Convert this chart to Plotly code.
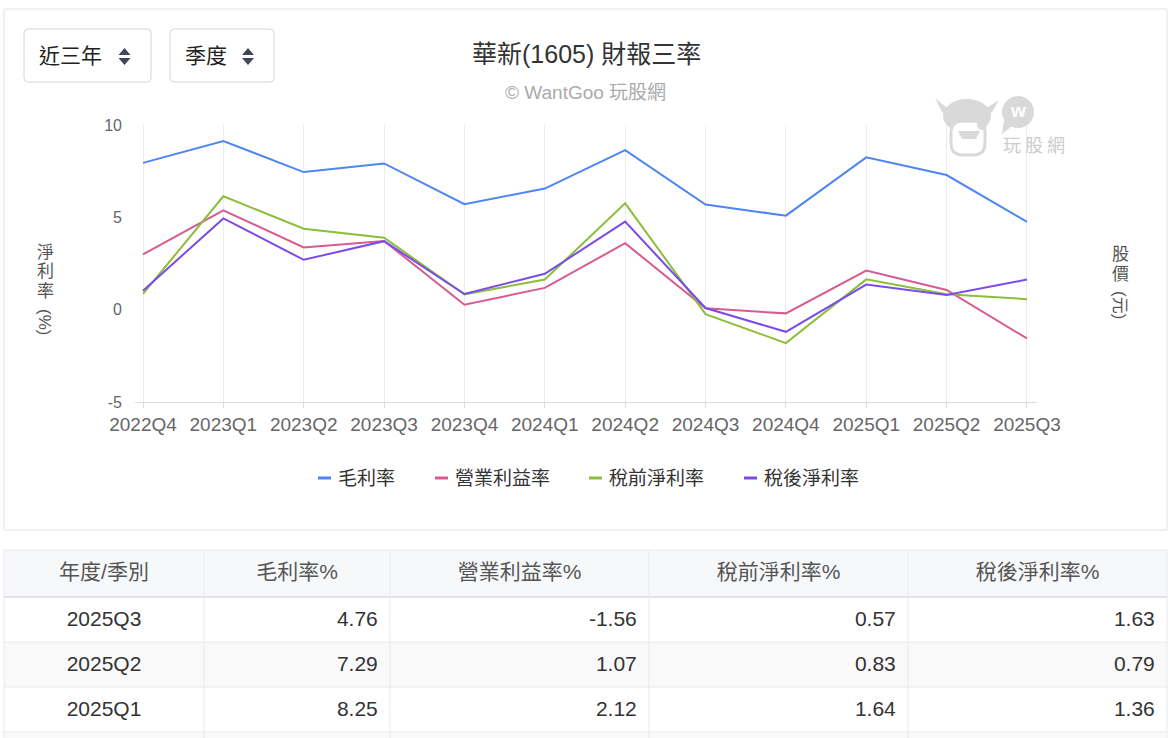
import plotly.graph_objects as go

# ---------------- data ----------------
quarters = ["2022Q4", "2023Q1", "2023Q2", "2023Q3", "2023Q4", "2024Q1",
            "2024Q2", "2024Q3", "2024Q4", "2025Q1", "2025Q2", "2025Q3"]
gross_margin = [7.95, 9.13, 7.45, 7.92, 5.71, 6.56, 8.64, 5.69, 5.09, 8.25, 7.29, 4.76]
operating_margin = [3.00, 5.38, 3.37, 3.72, 0.27, 1.18, 3.60, 0.07, -0.20, 2.12, 1.07, -1.56]
pretax_margin = [0.85, 6.14, 4.38, 3.90, 0.83, 1.63, 5.76, -0.24, -1.81, 1.64, 0.83, 0.57]
aftertax_margin = [1.03, 4.94, 2.70, 3.71, 0.85, 1.94, 4.77, 0.09, -1.20, 1.36, 0.79, 1.63]

series_names = ["毛利率", "營業利益率", "稅前淨利率", "稅後淨利率"]
series_colors = ["#4E86F1", "#D85A92", "#8BBE3B", "#7A4BEB"]
series_values = [gross_margin, operating_margin, pretax_margin, aftertax_margin]

y_ticks = [-5, 0, 5, 10]
y_tick_text = ["-5", "0", "5", "10"]
title_text = "華新(1605) 財報三率"
subtitle_text = "© WantGoo 玩股網"
period_options = ["近三年", "季度"]
table_header = ["年度/季別", "毛利率%", "營業利益率%", "稅前淨利率%", "稅後淨利率%"]
table_rows_shown = 3

# ---------------- layout helpers ----------------
W, H = 1172, 738
FONT = "Liberation Sans, Noto Sans CJK TC, Noto Sans, sans-serif"


def px(x):
    return x / W


def py(y):
    return 1 - y / H


def rrect(x0, y0, x1, y1, r):
    X = lambda v: px(v)
    Y = lambda v: py(v)
    return (f"M{X(x0 + r)},{Y(y0)} L{X(x1 - r)},{Y(y0)} Q{X(x1)},{Y(y0)} {X(x1)},{Y(y0 + r)} "
            f"L{X(x1)},{Y(y1 - r)} Q{X(x1)},{Y(y1)} {X(x1 - r)},{Y(y1)} "
            f"L{X(x0 + r)},{Y(y1)} Q{X(x0)},{Y(y1)} {X(x0)},{Y(y1 - r)} "
            f"L{X(x0)},{Y(y0 + r)} Q{X(x0)},{Y(y0)} {X(x0 + r)},{Y(y0)} Z")


def poly(points):
    return "M" + " L".join(f"{px(a)},{py(b)}" for a, b in points) + " Z"


def hline(x0, x1, y, color, layer="above"):
    return dict(type="line", xref="paper", yref="paper", x0=px(x0), x1=px(x1),
                y0=py(y), y1=py(y), line=dict(color=color, width=1), layer=layer)


def vline(x, y0, y1, color, layer="above"):
    return dict(type="line", xref="paper", yref="paper", x0=px(x), x1=px(x),
                y0=py(y0), y1=py(y1), line=dict(color=color, width=1), layer=layer)


def box(x0, x1, y0, y1, fill):
    return dict(type="rect", xref="paper", yref="paper", x0=px(x0), x1=px(x1),
                y0=py(y1), y1=py(y0), fillcolor=fill, line=dict(width=0), layer="below")


PLOT_L, PLOT_R, PLOT_T, PLOT_B = 135, 1037, 125, 402
STEP = 80.36
FIRST = 143

fig = go.Figure()

for name, color, vals in zip(series_names, series_colors, series_values):
    fig.add_trace(go.Scatter(x=quarters, y=vals, mode="lines", name=name,
                             line=dict(color=color, width=2), showlegend=False,
                             hoverinfo="x+y+name"))

# ---------------- table (latest first) ----------------
TAB_L, TAB_R, TAB_T = 4, 1167, 550
HEAD_H, ROW_H = 47, 45
col_w = [200, 186, 259, 259, 259]
TEXT_SHIFT = 5
TAB_FONT = 21

rows = list(range(len(quarters)))[::-1][:table_rows_shown]
cell_cols = [[quarters[i] for i in rows]]
for vals in series_values:
    cell_cols.append([f"{vals[i]:.2f}\u2009" for i in rows])

fig.add_trace(go.Table(
    domain=dict(x=[px(TAB_L), px(TAB_R)], y=[0, py(TAB_T + TEXT_SHIFT)]),
    columnwidth=col_w,
    header=dict(values=table_header, height=HEAD_H, align="center",
                fill=dict(color="rgba(0,0,0,0)"), line=dict(color="rgba(0,0,0,0)", width=0),
                font=dict(family=FONT, size=TAB_FONT, color="#555555")),
    cells=dict(values=cell_cols, height=ROW_H,
               align=["center", "right", "right", "right", "right"],
               fill=dict(color="rgba(0,0,0,0)"), line=dict(color="rgba(0,0,0,0)", width=0),
               font=dict(family=FONT, size=TAB_FONT, color="#333333")),
))

shapes = []
annotations = []

# table grid/background
shapes.append(box(TAB_L, TAB_R, TAB_T, TAB_T + HEAD_H, "#f7f8fa"))
row_edges = [TAB_T + HEAD_H + k * ROW_H for k in range(5)]
for k in range(4):
    if k % 2 == 1:
        shapes.append(box(TAB_L, TAB_R, row_edges[k], min(row_edges[k + 1], H + 2), "#f9f9fa"))
shapes.append(hline(TAB_L, TAB_R, TAB_T, "#e8e9ec"))
shapes.append(hline(TAB_L, TAB_R, TAB_T + HEAD_H, "#c9ccd1"))
for e in row_edges[1:4]:
    shapes.append(hline(TAB_L, TAB_R, e, "#e8e9ec"))
xs = [TAB_L]
for w in col_w:
    xs.append(xs[-1] + w)
for xv in xs:
    shapes.append(vline(xv, TAB_T, H + 2, "#e8e9ec"))

# card border
shapes.append(dict(type="rect", xref="paper", yref="paper", x0=px(4), x1=px(1167),
                   y0=py(530), y1=py(9), line=dict(color="#e2e3e6", width=1),
                   fillcolor="rgba(0,0,0,0)", layer="below"))

# dropdown boxes
boxes = [(24, 151, 37, 124.5), (170, 274, 183, 248)]
for (bx0, bx1, tx, ax), label in zip(boxes, period_options):
    shapes.append(dict(type="path", xref="paper", yref="paper",
                       path=rrect(bx0, 29, bx1, 82, 4), line=dict(color="#d3d6db", width=1),
                       fillcolor="white"))
    annotations.append(dict(x=px(tx), y=py(56), xref="paper", yref="paper", text=label,
                            showarrow=False, xanchor="left", yanchor="middle",
                            font=dict(family=FONT, size=21, color="#222222")))
    shapes.append(dict(type="path", xref="paper", yref="paper",
                       path=poly([(ax - 6, 55), (ax + 6, 55), (ax, 48)]),
                       line=dict(width=0), fillcolor="#3d4959"))
    shapes.append(dict(type="path", xref="paper", yref="paper",
                       path=poly([(ax - 6, 58), (ax + 6, 58), (ax, 65)]),
                       line=dict(width=0), fillcolor="#3d4959"))

# title + subtitle
annotations.append(dict(x=px(586), y=py(54), xref="paper", yref="paper", text=title_text,
                        showarrow=False, xanchor="center", yanchor="middle",
                        font=dict(family=FONT, size=25, color="#333333")))
annotations.append(dict(x=px(585), y=py(92), xref="paper", yref="paper", text=subtitle_text,
                        showarrow=False, xanchor="center", yanchor="middle",
                        font=dict(family=FONT, size=19, color="#aaaaaa")))

# watermark logo (approximate)
wm = "#d9d9d9"
shapes.append(dict(type="path", xref="paper", yref="paper", fillcolor=wm, line=dict(width=0),
                   path=poly([(935, 98), (942, 112), (952, 119), (946, 107)])))
shapes.append(dict(type="path", xref="paper", yref="paper", fillcolor=wm, line=dict(width=0),
                   path=poly([(999, 100), (992, 112), (982, 119), (988, 107)])))
shapes.append(dict(type="circle", xref="paper", yref="paper", x0=px(943), x1=px(991),
                   y0=py(133), y1=py(99), fillcolor=wm, line=dict(width=0)))
shapes.append(dict(type="path", xref="paper", yref="paper", fillcolor="white",
                   line=dict(color=wm, width=3),
                   path=rrect(951, 121, 985, 155, 12)))
shapes.append(dict(type="circle", xref="paper", yref="paper", x0=px(977), x1=px(987),
                   y0=py(130), y1=py(120), fillcolor=wm, line=dict(width=0)))
shapes.append(dict(type="path", xref="paper", yref="paper", fillcolor=wm, line=dict(width=0),
                   path=poly([(958, 131), (980, 131), (976, 139), (962, 139)])))
shapes.append(dict(type="circle", xref="paper", yref="paper", x0=px(1002), x1=px(1034),
                   y0=py(128), y1=py(96), fillcolor=wm, line=dict(width=0)))
shapes.append(dict(type="path", xref="paper", yref="paper", fillcolor=wm, line=dict(width=0),
                   path=poly([(1004, 120), (1012, 126), (1002, 134)])))
annotations.append(dict(x=px(1018), y=py(111), xref="paper", yref="paper", text="<b>w</b>",
                        showarrow=False, xanchor="center", yanchor="middle",
                        font=dict(family=FONT, size=19, color="white")))
for k, ch in enumerate("玩股網"):
    annotations.append(dict(x=px(1012 + k * 22), y=py(146), xref="paper", yref="paper", text=ch,
                            showarrow=False, xanchor="center", yanchor="middle",
                            font=dict(family=FONT, size=18, color="#cccccc")))

# vertical axis titles
for ch, yy in zip("淨利率", [252, 271, 291]):
    annotations.append(dict(x=px(45), y=py(yy), xref="paper", yref="paper", text=ch,
                            showarrow=False, xanchor="center", yanchor="middle",
                            font=dict(family=FONT, size=17, color="#555555")))
annotations.append(dict(x=px(45), y=py(322), xref="paper", yref="paper", text="(%)",
                        textangle=90, showarrow=False, xanchor="center", yanchor="middle",
                        font=dict(family=FONT, size=17, color="#555555")))
for ch, yy in zip("股價", [255, 274]):
    annotations.append(dict(x=px(1120), y=py(yy), xref="paper", yref="paper", text=ch,
                            showarrow=False, xanchor="center", yanchor="middle",
                            font=dict(family=FONT, size=17, color="#555555")))
annotations.append(dict(x=px(1120), y=py(305), xref="paper", yref="paper", text="(元)",
                        textangle=90, showarrow=False, xanchor="center", yanchor="middle",
                        font=dict(family=FONT, size=17, color="#555555")))

# manual legend
leg_line_x = [318, 435, 589, 744]
leg_y = 478
for lx, name, color in zip(leg_line_x, series_names, series_colors):
    shapes.append(dict(type="line", xref="paper", yref="paper", x0=px(lx), x1=px(lx + 13),
                       y0=py(leg_y), y1=py(leg_y), line=dict(color=color, width=3)))
    annotations.append(dict(x=px(lx + 18), y=py(leg_y), xref="paper", yref="paper", text=name,
                            showarrow=False, xanchor="left", yanchor="middle",
                            font=dict(family=FONT, size=19, color="#333333")))

x_lo = (PLOT_L - FIRST) / STEP
x_hi = (PLOT_R - FIRST) / STEP

fig.update_layout(
    width=W, height=H, autosize=False,
    margin=dict(l=0, r=0, t=0, b=0, pad=0, autoexpand=False),
    paper_bgcolor="white", plot_bgcolor="white",
    font=dict(family=FONT),
    xaxis=dict(domain=[px(PLOT_L), px(PLOT_R)], type="category", range=[x_lo, x_hi],
               showgrid=True, gridcolor="#ececec", gridwidth=1,
               showline=True, linecolor="#dcdcdc", linewidth=1,
               ticks="outside", ticklen=5, tickcolor="#dcdcdc", automargin=False,
               tickfont=dict(size=19, color="#666666", family=FONT), zeroline=False,
               fixedrange=True),
    yaxis=dict(domain=[py(PLOT_B), py(PLOT_T)], range=[-5, 10], tickvals=y_ticks,
               ticktext=y_tick_text, automargin=False,
               showgrid=False, zeroline=False, showline=False, ticks="",
               ticklabelstandoff=12,
               tickfont=dict(size=16, color="#666666", family=FONT), fixedrange=True),
    shapes=shapes, annotations=annotations,
    showlegend=False,
)

fig.write_html("out.html")
